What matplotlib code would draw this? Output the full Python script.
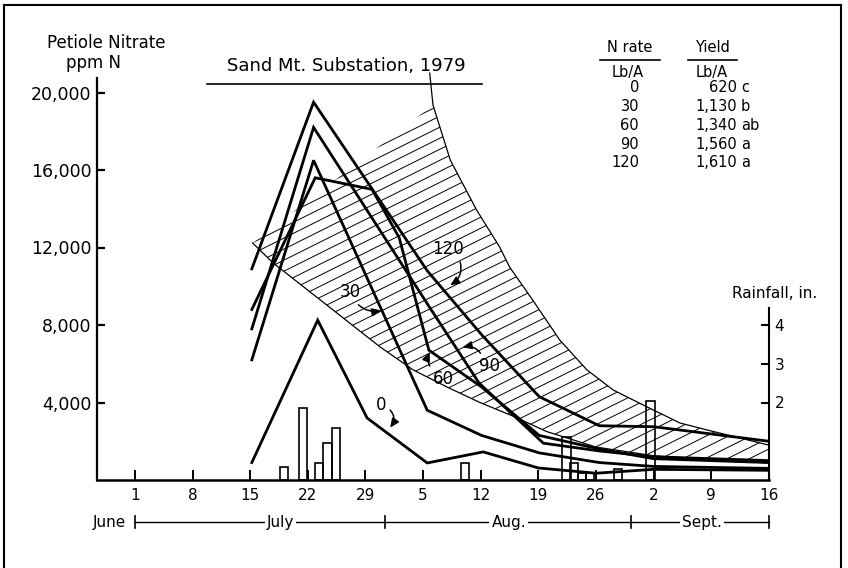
"""Petiole nitrate vs date, Sand Mt. Substation 1979, with rainfall bars."""
import numpy as np
import matplotlib
matplotlib.use("Agg")
import matplotlib.pyplot as plt
from matplotlib.patches import Polygon
from matplotlib.lines import Line2D
from matplotlib.transforms import blended_transform_factory

# x = days counted from July 1, 1979
tick_days = [0, 7, 14, 21, 28, 35, 42, 49, 56, 63, 70, 77]
tick_labels = ["1", "8", "15", "22", "29", "5", "12", "19", "26", "2", "9", "16"]

month_names = ["July", "Aug.", "Sept."]
month_edges = [0, 30.4, 60.3, 77]
month_label_days = [17.7, 45.4, 68.9]

ppm_ticks = [4000, 8000, 12000, 16000, 20000]
rain_ticks = [2, 3, 4]

# petiole nitrate, one series per N rate
n0_days = [14.2, 22.2, 28.2, 35.5, 42.3, 49.0, 56.0, 63.0, 77.0]
n0_ppm = [900, 8250, 3200, 880, 1450, 620, 350, 550, 500]

n30_days = [14.2, 21.7, 35.5, 42.1, 49.1, 56.4, 63.0, 77.0]
n30_ppm = [6200, 16500, 3600, 2300, 1400, 900, 700, 600]

n60_days = [14.2, 21.9, 28.8, 32.1, 35.7, 42.1, 49.1, 56.4, 63.0, 77.0]
n60_ppm = [8800, 15600, 15000, 12500, 6700, 4800, 2300, 1600, 1100, 900]

n90_days = [14.2, 21.7, 35.5, 41.8, 49.6, 56.4, 63.0, 77.0]
n90_ppm = [7800, 18200, 9100, 5000, 1900, 1500, 1200, 1000]

n120_days = [14.2, 21.7, 35.5, 42.1, 49.1, 56.4, 63.0, 77.0]
n120_ppm = [10900, 19500, 10800, 7500, 4300, 2800, 2750, 2000]

# hatched band (sufficiency range)
band_low_days = [14.3, 16.8, 29.8, 33.8, 37.9, 41.9, 45.9, 50.0, 56.0, 63.0, 77.0]
band_low_ppm = [12230, 11200, 6860, 5680, 4800, 4000, 3300, 2500, 1700, 1250, 880]
band_up_days = [35.8, 36.2, 38.3, 41.5, 44.3, 45.5, 48.3, 51.6, 54.9, 58.1, 62.2, 66.2, 69.5, 77.0]
band_up_ppm = [21000, 19350, 16510, 13930, 12020, 10990, 9290, 7220, 5680, 4640, 3770, 2940, 2580, 1800]

# rainfall, inches
rain_days = [18.1, 20.4, 22.4, 23.4, 24.4, 40.1, 52.4, 53.3, 54.3, 55.3, 58.7, 62.6]
rain_in = [0.34, 1.86, 0.44, 0.96, 1.34, 0.44, 1.11, 0.44, 0.18, 0.18, 0.28, 2.05]

# yield table
table_rates = ["0", "30", "60", "90", "120"]
table_yield = ["620", "1,130", "1,340", "1,560", "1,610"]
table_group = ["c", "b", "ab", "a", "a"]

W, H = 848, 568
YMAX = 21300


def fx(px):
    return px / W


def fy(py):
    return 1 - py / H


plt.rcParams["font.family"] = ["DejaVu Sans"]
fig = plt.figure(figsize=(W / 100, H / 100), dpi=100)
ax = fig.add_axes([fx(97), 88 / H, 672 / W, (YMAX * 0.019375) / H])
ax.set_xlim(-4.6, 77.0)
ax.set_ylim(0, YMAX)

# band with hand-style hatching; the hatch stops short of the curve's top tip
band_x = np.r_[band_low_days, band_up_days[:0:-1]]
band_y = np.r_[band_low_ppm, band_up_ppm[:0:-1]]
band = Polygon(np.c_[band_x, band_y], closed=True, fill=False, edgecolor="none")
ax.add_patch(band)
slope, step = 212.0, 570.0
xs = np.array([-5.0, 80.0])
for b in np.arange(-17000, 15000, step):
    ln, = ax.plot(xs, b + slope * xs, color="black", lw=0.7)
    ln.set_clip_path(band)
ax.plot(band_low_days, band_low_ppm, color="black", lw=0.9)
ax.plot(band_up_days, band_up_ppm, color="black", lw=0.9, clip_on=False)

for d, v in [(n0_days, n0_ppm), (n30_days, n30_ppm), (n60_days, n60_ppm),
             (n90_days, n90_ppm), (n120_days, n120_ppm)]:
    ax.plot(d, v, color="black", lw=2.0, solid_joinstyle="miter")

# spines / ticks
for s in ["top", "right"]:
    ax.spines[s].set_visible(False)
ax.spines["left"].set_bounds(0, 20750)
ax.spines["left"].set_linewidth(1.6)
ax.spines["bottom"].set_linewidth(1.8)
ax.set_yticks(ppm_ticks)
ax.set_yticklabels([f"{v:,}" for v in ppm_ticks])
ax.set_xticks(tick_days)
ax.set_xticklabels(tick_labels)
ax.tick_params(axis="y", direction="in", length=6, width=1.6, pad=4, labelsize=12.5)
ax.tick_params(axis="x", direction="in", length=7, width=1.4, pad=6, labelsize=11)

# rainfall axis
ax2 = ax.twinx()
ax2.set_ylim(0, YMAX / 2000)
ax2.bar(rain_days, rain_in, width=1.0, fill=False, edgecolor="black", linewidth=1.2)
for s in ["top", "left", "bottom"]:
    ax2.spines[s].set_visible(False)
ax2.spines["right"].set_bounds(0, 4.45)
ax2.spines["right"].set_linewidth(1.5)
ax2.set_yticks(rain_ticks)
ax2.tick_params(axis="y", direction="in", length=6, width=1.5, pad=4, labelsize=11)

# line labels with curved arrows
lab_kw = dict(ha="center", va="center", fontsize=12)
def arrow(rad, rel):
    return dict(arrowstyle="-|>,head_length=0.45,head_width=0.2", color="black",
                lw=1.1, connectionstyle=f"arc3,rad={rad}", relpos=rel,
                shrinkA=1, shrinkB=0)
ax.annotate("120", xy=(38.3, 10050), xytext=(38.0, 11920), arrowprops=arrow(-0.4, (0.85, 0.0)), **lab_kw)
ax.annotate("30", xy=(29.9, 8750), xytext=(26.2, 9700), arrowprops=arrow(0.3, (0.7, 0.0)), **lab_kw)
ax.annotate("60", xy=(35.8, 6600), xytext=(37.5, 5210), arrowprops=arrow(-0.4, (0.1, 0.9)), **lab_kw)
ax.annotate("90", xy=(39.8, 6850), xytext=(43.0, 5880), arrowprops=arrow(0.4, (0.2, 1.0)), **lab_kw)
ax.annotate("0", xy=(31.0, 2700), xytext=(29.9, 3870), arrowprops=arrow(-0.5, (1.0, 0.4)), **lab_kw)

# month row under the axis
trans = blended_transform_factory(ax.transData, ax.transAxes)
y_row = (480 - 522) / (YMAX * 0.019375)
ax.plot([month_edges[0], month_edges[-1]], [y_row, y_row], transform=trans,
        color="black", lw=1.0, clip_on=False)
for e in month_edges:
    ax.plot([e, e], [y_row - 0.015, y_row + 0.015], transform=trans,
            color="black", lw=1.2, clip_on=False)
for name, d in zip(month_names, month_label_days):
    ax.text(d, y_row, name, transform=trans, ha="center", va="center", fontsize=11,
            bbox=dict(facecolor="white", edgecolor="none", pad=1.5))
ax.text(month_edges[0] - 1.1, y_row, "June", transform=trans, ha="right",
        va="center", fontsize=11)

# texts around the plot
fig.text(fx(106), fy(43), "Petiole Nitrate", ha="center", va="center", fontsize=12)
fig.text(fx(94), fy(63), "ppm N", ha="center", va="center", fontsize=12)
fig.text(fx(346), fy(66), "Sand Mt. Substation, 1979", ha="center", va="center", fontsize=13)
fig.add_artist(Line2D([fx(207), fx(482)], [fy(84), fy(84)], color="black", lw=1.2))
fig.text(fx(775), fy(293), "Rainfall, in.", ha="center", va="center", fontsize=11)

fig.text(fx(630), fy(47), "N rate", ha="center", va="center", fontsize=10.5)
fig.text(fx(712), fy(47), "Yield", ha="center", va="center", fontsize=10.5)
fig.add_artist(Line2D([fx(600), fx(660)], [fy(60), fy(60)], color="black", lw=1.2))
fig.add_artist(Line2D([fx(688), fx(737)], [fy(60), fy(60)], color="black", lw=1.2))
fig.text(fx(628), fy(72), "Lb/A", ha="center", va="center", fontsize=10.5)
fig.text(fx(712), fy(72), "Lb/A", ha="center", va="center", fontsize=10.5)
for i, (r, yv, g) in enumerate(zip(table_rates, table_yield, table_group)):
    yy = fy(88 + i * 18.7)
    fig.text(fx(639), yy, r, ha="right", va="center", fontsize=10.5)
    fig.text(fx(737), yy, yv, ha="right", va="center", fontsize=10.5)
    fig.text(fx(741), yy, g, ha="left", va="center", fontsize=10.5)

# outer frame (bottom edge falls outside the picture)
frame_kw = dict(color="black", lw=1.5)
fig.add_artist(Line2D([fx(4), fx(4)], [fy(5), -0.05], **frame_kw))
fig.add_artist(Line2D([fx(4), fx(841)], [fy(5), fy(5)], **frame_kw))
fig.add_artist(Line2D([fx(841), fx(841)], [fy(5), -0.05], **frame_kw))

fig.savefig("out.png", dpi=100)
